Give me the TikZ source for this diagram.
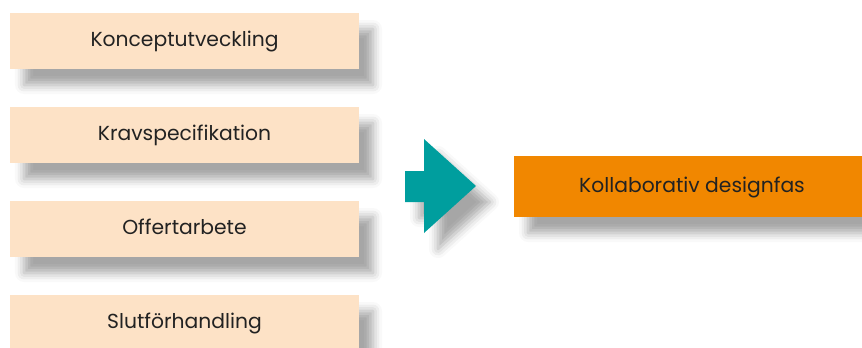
\documentclass[tikz,border=0pt]{standalone}
\usepackage{fontspec}
\setmainfont{Poppins}
\usetikzlibrary{shadows.blur}
\definecolor{phasefill}{HTML}{FDE2C6}
\definecolor{designorange}{HTML}{F18700}
\definecolor{arrowteal}{HTML}{009E9E}
\definecolor{labeltext}{HTML}{222222}
\begin{document}
\begin{tikzpicture}[x=1pt,y=-1pt,
  softshadow/.style={blur shadow={shadow xshift=14pt, shadow yshift=-16pt,
      shadow blur radius=9pt, shadow opacity=35}},
  boxtext/.style={text=labeltext, font=\fontsize{20.3}{24}\selectfont,
      text depth=0pt, text height=11pt},
  phase/.style={fill=phasefill, draw=none, minimum width=349pt, minimum height=56pt,
      inner sep=0pt, boxtext, softshadow},
  result/.style={fill=designorange, draw=none, minimum width=356pt, minimum height=61pt,
      inner sep=0pt, boxtext, softshadow},
]
\useasboundingbox (0,0) rectangle (862,348);

% input phases, stacked on the left
\node[phase] (p1) at (184.5,41)  {Konceptutveckling};
\node[phase] (p2) at (184.5,135) {Kravspecifikation};
\node[phase] (p3) at (184.5,229) {Offertarbete};
\node[phase] (p4) at (184.5,323) {Slutförhandling};

% block arrow leading into the joint phase
\path[fill=arrowteal, softshadow]
  (405,171) -- (424,171) -- (424,139) -- (476,186) -- (424,233)
  -- (424,202) -- (405,202) -- cycle;

% resulting collaborative phase
\node[result] (d) at (692,186.5) {Kollaborativ designfas};
\end{tikzpicture}
\end{document}
